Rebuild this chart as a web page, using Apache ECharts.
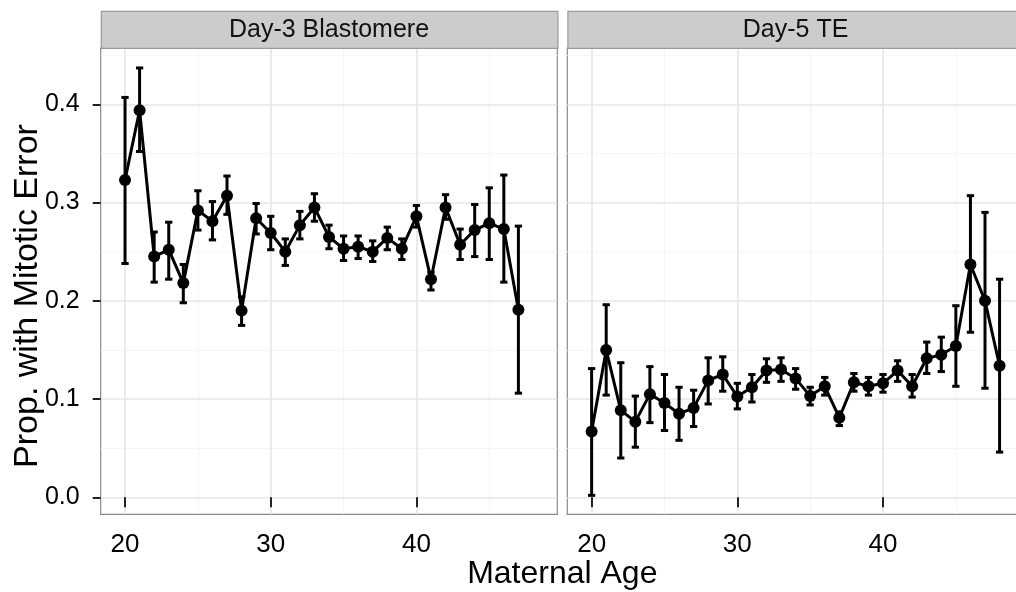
<!DOCTYPE html>
<html>
<head>
<meta charset="utf-8">
<script src="https://cdn.jsdelivr.net/npm/echarts@6/dist/echarts.min.js"></script>
<style>
  html, body { margin: 0; padding: 0; background: #ffffff; }
  #chart { width: 1016px; height: 592px; }
</style>
</head>
<body>
<div id="chart"></div>
<script>
// Proportion of samples with mitotic error by maternal age, with 95% intervals
const panelTitles = ['Day-3 Blastomere', 'Day-5 TE'];

const ageDay3  = [20, 21, 22, 23, 24, 25, 26, 27, 28, 29, 30, 31, 32, 33, 34, 35, 36, 37, 38, 39, 40, 41, 42, 43, 44, 45, 46, 47];
const meanDay3 = [0.323, 0.394, 0.245, 0.252, 0.218, 0.292, 0.281, 0.307, 0.190, 0.284, 0.269, 0.250, 0.277, 0.295, 0.265, 0.253, 0.255, 0.250, 0.264, 0.253, 0.286, 0.222, 0.295, 0.257, 0.272, 0.279, 0.273, 0.191];
const loDay3   = [0.238, 0.352, 0.219, 0.222, 0.198, 0.272, 0.262, 0.288, 0.175, 0.268, 0.252, 0.236, 0.263, 0.281, 0.253, 0.241, 0.243, 0.240, 0.252, 0.242, 0.275, 0.211, 0.283, 0.242, 0.245, 0.242, 0.219, 0.106];
const hiDay3   = [0.407, 0.437, 0.270, 0.280, 0.237, 0.312, 0.301, 0.327, 0.204, 0.299, 0.286, 0.263, 0.291, 0.309, 0.277, 0.266, 0.266, 0.261, 0.275, 0.263, 0.297, 0.229, 0.308, 0.273, 0.298, 0.315, 0.328, 0.276];

const ageDay5  = [20, 21, 22, 23, 24, 25, 26, 27, 28, 29, 30, 31, 32, 33, 34, 35, 36, 37, 38, 39, 40, 41, 42, 43, 44, 45, 46, 47, 48];
const meanDay5 = [0.067, 0.150, 0.0885, 0.077, 0.105, 0.096, 0.085, 0.091, 0.119, 0.125, 0.1025, 0.112, 0.129, 0.130, 0.121, 0.103, 0.113, 0.081, 0.117, 0.113, 0.116, 0.129, 0.113, 0.1415, 0.145, 0.154, 0.237, 0.200, 0.134];
const loDay5   = [0.002, 0.104, 0.040, 0.051, 0.076, 0.068, 0.058, 0.072, 0.095, 0.108, 0.090, 0.097, 0.117, 0.118, 0.110, 0.094, 0.104, 0.073, 0.108, 0.104, 0.107, 0.118, 0.102, 0.126, 0.128, 0.113, 0.168, 0.111, 0.046];
const hiDay5   = [0.131, 0.196, 0.137, 0.103, 0.133, 0.125, 0.112, 0.109, 0.142, 0.143, 0.116, 0.125, 0.141, 0.142, 0.131, 0.112, 0.122, 0.087, 0.126, 0.122, 0.125, 0.139, 0.125, 0.158, 0.163, 0.195, 0.307, 0.290, 0.222];

const xTicks = [20, 30, 40];
const xMinor = [25, 35, 45];
const yTicks = [0, 0.1, 0.2, 0.3, 0.4];
const yMinor = [0.05, 0.15, 0.25, 0.35, 0.45];

const xTitle = 'Maternal Age';
const yTitle = 'Prop. with Mitotic Error';

// ---- layout / style ----
const FONT = '"Liberation Sans", Arial, Helvetica, sans-serif';
const X_MIN = 18.33, X_MAX = 49.67;
const Y_MIN = -0.0173, Y_MAX = 0.4573;
const PANEL_TOP = 48, PANEL_H = 466.3, PANEL_W = 456.6;
const PANEL_LEFT = [100.7, 567.3];
const STRIP_TOP = 10.7, STRIP_H = 37;
const CAP_HALF = 0.25;
const INK = '#000000';
const STROKE_W = 3;

const panels = [
  { age: ageDay3, mean: meanDay3, lo: loDay3, hi: hiDay3 },
  { age: ageDay5, mean: meanDay5, lo: loDay5, hi: hiDay5 }
];

function renderErrorBar(params, api) {
  const x = api.value(0), lo = api.value(1), hi = api.value(2);
  const top = api.coord([x, hi]);
  const bot = api.coord([x, lo]);
  const tl = api.coord([x - CAP_HALF, hi]), tr = api.coord([x + CAP_HALF, hi]);
  const bl = api.coord([x - CAP_HALF, lo]), br = api.coord([x + CAP_HALF, lo]);
  const style = { stroke: INK, lineWidth: STROKE_W, fill: null };
  return {
    type: 'group',
    children: [
      { type: 'line', shape: { x1: top[0], y1: top[1], x2: bot[0], y2: bot[1] }, style: style },
      { type: 'line', shape: { x1: tl[0], y1: tl[1], x2: tr[0], y2: tr[1] }, style: style },
      { type: 'line', shape: { x1: bl[0], y1: bl[1], x2: br[0], y2: br[1] }, style: style }
    ]
  };
}

function gridLines() {
  const major = { color: '#e6e6e6', width: 1.6, type: 'solid' };
  const minor = { color: '#f6f6f6', width: 1.2, type: 'solid' };
  const out = [];
  xMinor.forEach(v => out.push({ xAxis: v, lineStyle: minor }));
  yMinor.forEach(v => out.push({ yAxis: v, lineStyle: minor }));
  xTicks.forEach(v => out.push({ xAxis: v, lineStyle: major }));
  yTicks.forEach(v => out.push({ yAxis: v, lineStyle: major }));
  return out;
}

const grids = [], xAxes = [], yAxes = [], series = [], graphics = [];

panels.forEach((p, i) => {
  grids.push({
    left: PANEL_LEFT[i], top: PANEL_TOP, width: PANEL_W, height: PANEL_H,
    show: true, backgroundColor: '#ffffff', borderColor: '#8a8a8a', borderWidth: 1.2,
    containLabel: false, outerBoundsMode: 'none'
  });
  xAxes.push({
    type: 'value', gridIndex: i, min: X_MIN, max: X_MAX,
    axisLine: { show: false },
    axisTick: { show: true, customValues: xTicks, length: 10, inside: false, lineStyle: { color: '#222', width: 2 } },
    axisLabel: { show: true, customValues: xTicks, margin: 18, color: '#000', fontSize: 26, fontFamily: FONT },
    splitLine: { show: false }, minorSplitLine: { show: false }
  });
  yAxes.push({
    type: 'value', gridIndex: i, min: Y_MIN, max: Y_MAX,
    axisLine: { show: false },
    axisTick: { show: i === 0, customValues: yTicks, length: 8, inside: false, lineStyle: { color: '#222', width: 2 } },
    axisLabel: {
      show: i === 0, customValues: yTicks, margin: 21, color: '#000', fontSize: 25, fontFamily: FONT,
      formatter: v => v.toFixed(1)
    },
    splitLine: { show: false }
  });

  // panel grid lines, kept beneath the data marks
  series.push({
    type: 'line', xAxisIndex: i, yAxisIndex: i, data: [], z: 0, silent: true,
    markLine: { z: 0, silent: true, symbol: ['none', 'none'], label: { show: false }, animation: false, data: gridLines() }
  });
  // interval bars
  series.push({
    type: 'custom', xAxisIndex: i, yAxisIndex: i, z: 4, silent: true,
    renderItem: renderErrorBar,
    encode: { x: 0, y: [1, 2] },
    data: p.age.map((a, k) => [a, p.lo[k], p.hi[k]])
  });
  // mean proportion line with points
  series.push({
    type: 'line', xAxisIndex: i, yAxisIndex: i, z: 5,
    data: p.age.map((a, k) => [a, p.mean[k]]),
    symbol: 'circle', symbolSize: 12, showSymbol: true,
    lineStyle: { color: INK, width: STROKE_W }, itemStyle: { color: INK },
    emphasis: { disabled: true }
  });

  // facet strip
  graphics.push({
    type: 'rect', left: PANEL_LEFT[i], top: STRIP_TOP, z: 5,
    shape: { width: PANEL_W, height: STRIP_H },
    style: { fill: '#cccccc', stroke: '#9a9a9a', lineWidth: 1.2 }
  });
  graphics.push({
    type: 'text', x: PANEL_LEFT[i] + PANEL_W / 2, y: STRIP_TOP + STRIP_H / 2 + 1, z: 6,
    style: { text: panelTitles[i], fill: '#111', font: '25px ' + FONT, textAlign: 'center', textVerticalAlign: 'middle' }
  });
});

// axis titles
graphics.push({
  type: 'text', x: (PANEL_LEFT[0] + PANEL_LEFT[1] + PANEL_W) / 2, y: 574, z: 6,
  style: { text: xTitle, fill: '#000', font: '32px ' + FONT, textAlign: 'center', textVerticalAlign: 'middle' }
});
graphics.push({
  type: 'text', x: 28, y: 296, rotation: Math.PI / 2, z: 6,
  style: { text: yTitle, fill: '#000', font: '34px ' + FONT, textAlign: 'center', textVerticalAlign: 'middle' }
});

const chart = echarts.init(document.getElementById('chart'), null, { renderer: 'canvas' });
chart.setOption({
  animation: false,
  backgroundColor: '#ffffff',
  grid: grids,
  xAxis: xAxes,
  yAxis: yAxes,
  series: series,
  graphic: graphics
});
</script>
</body>
</html>
